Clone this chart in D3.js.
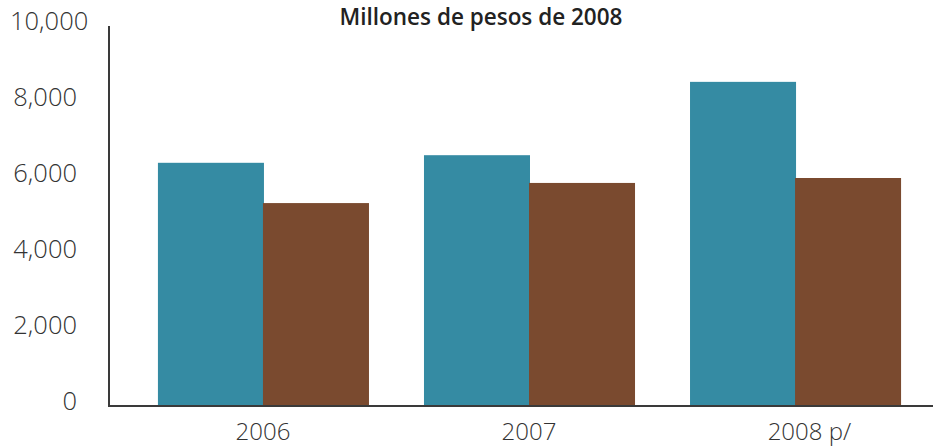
<!DOCTYPE html>
<html>
<head>
<meta charset="utf-8">
<script src="https://cdn.jsdelivr.net/npm/d3@7"></script>
<style>
  html, body { margin: 0; padding: 0; background: #fff; }
  svg { display: block; }
  text { font-family: "Open Sans", "Noto Sans", sans-serif; fill: #333; }
</style>
</head>
<body>
<svg id="chart" width="933" height="446"></svg>
<script>
// Data: millions of 2008 pesos per year, two series
const years = ["2006", "2007", "2008"];
const yearSuffix = ["", "", " p/"];
const seriesA = [6400, 6600, 8530];
const seriesB = [5340, 5870, 6000];
const yTicks = [0, 2000, 4000, 6000, 8000, 10000];
const titleText = "Millones de pesos de 2008";

const colors = ["#358BA3", "#7A4A2F"];

const W = 933, H = 446;
const svg = d3.select("#chart");

const axisX = 109, baseY = 406, topY = 26;

const y = d3.scaleLinear().domain([0, 10000]).range([baseY, topY]);

const x = d3.scaleBand()
  .domain(years)
  .range([130, 928])
  .paddingInner(0.2105)
  .paddingOuter(0.105);

const sub = d3.scaleBand()
  .domain([0, 1])
  .range([0, x.bandwidth()])
  .padding(0);

// Bars
const rows = years.map((yr, i) => ({ yr, vals: [seriesA[i], seriesB[i]] }));
const groups = svg.append("g").selectAll("g")
  .data(rows)
  .join("g")
  .attr("transform", d => `translate(${x(d.yr)},0)`);

groups.selectAll("rect")
  .data(d => d.vals.map((v, k) => ({ v, k })))
  .join("rect")
  .attr("x", d => sub(d.k))
  .attr("width", sub.bandwidth() + 1)
  .attr("y", d => y(d.v))
  .attr("height", d => y(0) - y(d.v))
  .attr("fill", d => colors[d.k]);

// Axis lines
svg.append("line")
  .attr("x1", axisX).attr("x2", axisX)
  .attr("y1", topY).attr("y2", baseY + 1)
  .attr("stroke", "#3a3a3a").attr("stroke-width", 2);
svg.append("line")
  .attr("x1", axisX - 1).attr("x2", W)
  .attr("y1", baseY).attr("y2", baseY)
  .attr("stroke", "#3a3a3a").attr("stroke-width", 2);

// Y tick labels
const fmt = d3.format(",");
const yLabels = svg.append("g").selectAll("text")
  .data(yTicks)
  .join("text")
  .attr("x", 77)
  .attr("y", d => y(d))
  .attr("dy", "0.35em")
  .attr("transform", "translate(0,-5)")
  .attr("text-anchor", "end")
  .style("font-size", "25.5px")
  .style("font-weight", 300)
  .text(d => fmt(d));
// keep long labels inside the left edge
yLabels.each(function () {
  const b = this.getBBox();
  if (b.x < 8) d3.select(this).attr("text-anchor", "start").attr("x", 10);
});

// X category labels: the year is centred under its group, suffix follows
const xLabels = svg.append("g").selectAll("text")
  .data(years.map((yr, i) => ({ yr, suf: yearSuffix[i] })))
  .join("text")
  .attr("y", 432)
  .attr("dy", "0.35em")
  .attr("text-anchor", "start")
  .style("font-size", "24px")
  .style("font-weight", 300);
xLabels.append("tspan").attr("class", "yr").text(d => d.yr);
xLabels.append("tspan").text(d => d.suf);
xLabels.each(function (d) {
  const w = d3.select(this).select("tspan.yr").node().getComputedTextLength();
  d3.select(this).attr("x", x(d.yr) + x.bandwidth() / 2 - w / 2);
});

// Title
svg.append("text")
  .attr("x", 481)
  .attr("y", 25)
  .attr("text-anchor", "middle")
  .style("font-size", "22.5px")
  .style("font-weight", 600)
  .style("fill", "#222")
  .text(titleText);
</script>
</body>
</html>
